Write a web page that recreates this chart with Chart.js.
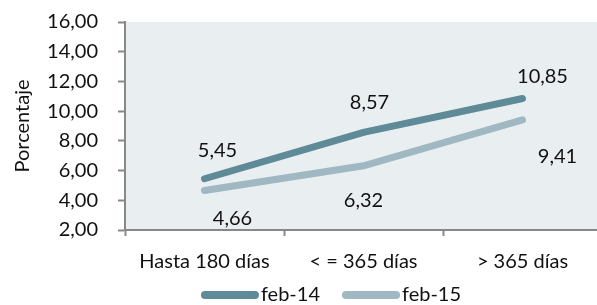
<!DOCTYPE html>
<html>
<head>
<meta charset="utf-8">
<script src="https://cdn.jsdelivr.net/npm/chart.js@4.4.1/dist/chart.umd.min.js"></script>
<style>
  html, body { margin: 0; padding: 0; background: #fff; overflow: hidden; }
  #wrap { width: 602px; height: 305px; }
</style>
</head>
<body>
<div id="wrap"><canvas id="chart"></canvas></div>
<script>
const categories = ['Hasta 180 días', '< = 365 días', '> 365 días'];
const feb14 = [5.45, 8.57, 10.85];
const feb15 = [4.66, 6.32, 9.41];
const seriesNames = ['feb-14', 'feb-15'];

const fmt = v => v.toFixed(2).replace('.', ',');
const FONT = 'Lato';

// label offsets per point (dx, dy) relative to the point
const labelOffsets = [
  [[13, -28], [6, -30], [20, -22]],
  [[28, 28], [0, 35], [35, 37]]
];

const plotBg = {
  id: 'plotBg',
  beforeDraw(chart) {
    const { ctx, chartArea: a } = chart;
    ctx.save();
    ctx.fillStyle = '#e9eef1';
    ctx.fillRect(a.left, a.top, a.right - a.left, a.bottom - a.top);
    ctx.restore();
  }
};

const valueLabels = {
  id: 'valueLabels',
  afterDatasetsDraw(chart) {
    const ctx = chart.ctx;
    ctx.save();
    ctx.font = '20px ' + FONT;
    ctx.fillStyle = '#111';
    ctx.textAlign = 'center';
    ctx.textBaseline = 'middle';
    chart.data.datasets.forEach((ds, i) => {
      chart.getDatasetMeta(i).data.forEach((pt, j) => {
        const [dx, dy] = labelOffsets[i][j];
        ctx.fillText(fmt(ds.data[j]), pt.x + dx, pt.y + dy);
      });
    });
    ctx.restore();
  }
};

// simple legend: rounded line swatch followed right away by the text
const lineLegend = {
  id: 'lineLegend',
  afterDraw(chart) {
    const ctx = chart.ctx;
    ctx.save();
    ctx.font = '20px ' + FONT;
    ctx.textBaseline = 'middle';
    const sw = 58, gap = 2, between = 22, y = 295;
    const items = chart.data.datasets.map(ds => ({ ds, w: sw + gap + ctx.measureText(ds.label).width }));
    const total = items.reduce((s, it) => s + it.w, 0) + between * (items.length - 1);
    let x = 331 - total / 2;
    items.forEach(it => {
      ctx.strokeStyle = it.ds.borderColor;
      ctx.lineWidth = 8;
      ctx.lineCap = 'round';
      ctx.beginPath();
      ctx.moveTo(x + 4, y);
      ctx.lineTo(x + sw - 4, y);
      ctx.stroke();
      ctx.fillStyle = '#111';
      ctx.fillText(it.ds.label, x + sw + gap, y);
      x += it.w + between;
    });
    ctx.restore();
  }
};

new Chart(document.getElementById('chart'), {
  type: 'line',
  data: {
    labels: categories,
    datasets: [{
      label: seriesNames[0],
      data: feb14,
      borderColor: '#5f8a97',
      backgroundColor: '#5f8a97',
      borderWidth: 7,
      borderCapStyle: 'round',
      pointRadius: 0,
      tension: 0
    }, {
      label: seriesNames[1],
      data: feb15,
      borderColor: '#9fb8c2',
      backgroundColor: '#9fb8c2',
      borderWidth: 7,
      borderCapStyle: 'round',
      pointRadius: 0,
      tension: 0
    }]
  },
  options: {
    responsive: true,
    maintainAspectRatio: false,
    animation: false,
    layout: { padding: { top: 22, right: 0, left: 0, bottom: 30 } },
    plugins: {
      legend: { display: false },
      tooltip: { enabled: false }
    },
    scales: {
      x: {
        offset: true,
        grid: { offset: true, drawOnChartArea: false, drawTicks: true, tickLength: 6, tickColor: '#888', tickWidth: 2 },
        border: { color: '#888', width: 2 },
        ticks: { color: '#111', font: { family: FONT, size: 20 }, padding: 14 },
        afterFit: s => { s.height = 45; s.paddingLeft = 0; s.paddingRight = 0; }
      },
      y: {
        min: 2,
        max: 16,
        ticks: {
          stepSize: 2,
          color: '#111',
          font: { family: FONT, size: 20 },
          padding: 20,
          callback: v => fmt(v)
        },
        grid: { drawOnChartArea: false, drawTicks: true, tickLength: 7, tickColor: '#888', tickWidth: 2 },
        border: { color: '#888', width: 2 },
        title: { display: true, text: 'Porcentaje', color: '#111', font: { family: FONT, size: 20 }, padding: { top: 11, bottom: 0 } },
        afterFit: s => { s.width = 125; s.paddingTop = 0; s.paddingBottom = 0; }
      }
    }
  },
  plugins: [plotBg, valueLabels, lineLegend]
});
</script>
</body>
</html>
